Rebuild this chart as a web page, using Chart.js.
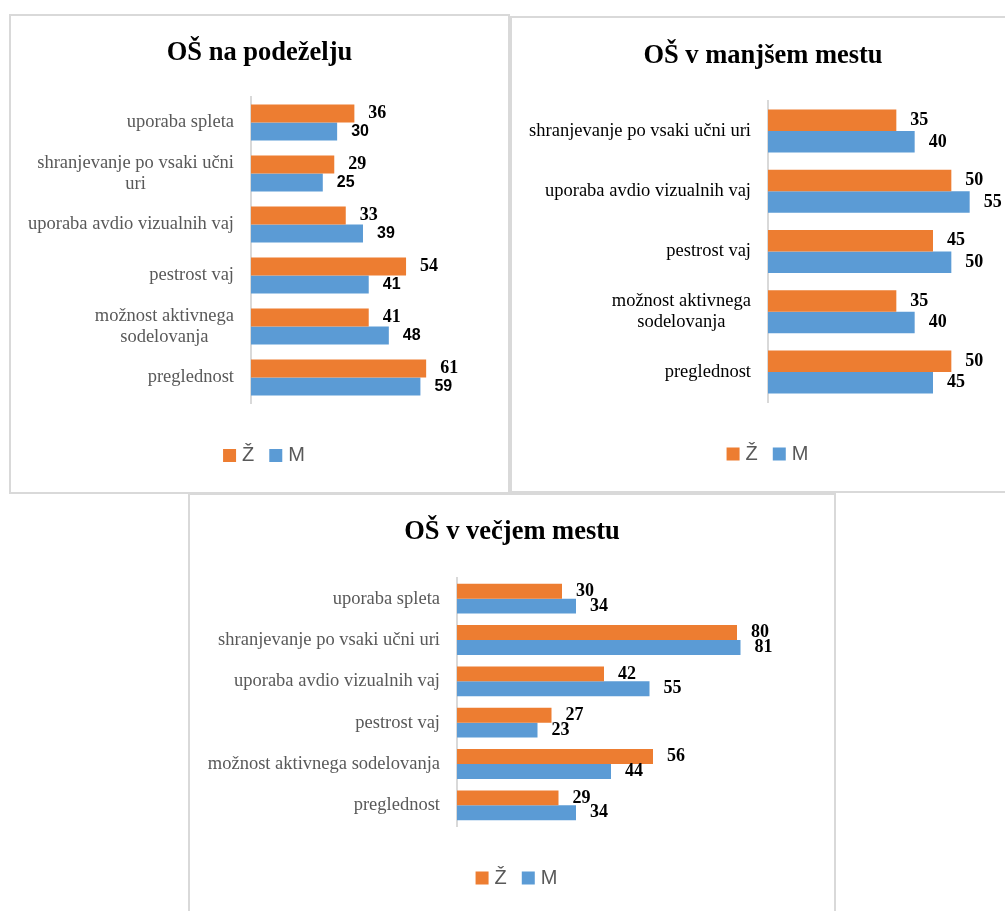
<!DOCTYPE html>
<html>
<head>
<meta charset="utf-8">
<title>OŠ – Ž / M</title>
<script src="https://cdn.jsdelivr.net/npm/chart.js@4.4.0/dist/chart.umd.min.js"></script>
<style>
  html, body { margin: 0; padding: 0; background: #fff; overflow: hidden; }
  body { width: 1005px; height: 911px; position: relative; }
  .panel { position: absolute; box-sizing: border-box; border: 2px solid #d9d9d9; background: #fff; }
  .panel canvas { display: block; }
  #p1 { left: 9px; top: 14px; width: 501px; height: 480px; }
  #p2 { left: 510px; top: 16px; width: 506px; height: 477px; }
  #p3 { left: 188px; top: 493px; width: 648px; height: 440px; }
</style>
</head>
<body>
<div class="panel" id="p1"><canvas id="ruralChart" width="497" height="476"></canvas></div>
<div class="panel" id="p2"><canvas id="smallTownChart" width="502" height="473"></canvas></div>
<div class="panel" id="p3"><canvas id="largeTownChart" width="644" height="436"></canvas></div>

<script>
// series names
const legendNames = ['Ž', 'M'];

// OŠ na podeželju
const ruralLabels = ['uporaba spleta', ['shranjevanje po vsaki učni', 'uri'], 'uporaba avdio vizualnih vaj',
    'pestrost vaj', ['možnost aktivnega', 'sodelovanja'], 'preglednost'];
const ruralZ = [36, 29, 33, 54, 41, 61];
const ruralM = [30, 25, 39, 41, 48, 59];

// OŠ v manjšem mestu
const smallTownLabels = ['shranjevanje po vsaki učni uri', 'uporaba avdio vizualnih vaj', 'pestrost vaj',
    ['možnost aktivnega', 'sodelovanja'], 'preglednost'];
const smallTownZ = [35, 50, 45, 35, 50];
const smallTownM = [40, 55, 50, 40, 45];

// OŠ v večjem mestu
const largeTownLabels = ['uporaba spleta', 'shranjevanje po vsaki učni uri', 'uporaba avdio vizualnih vaj',
    'pestrost vaj', 'možnost aktivnega sodelovanja', 'preglednost'];
const largeTownZ = [30, 80, 42, 27, 56, 29];
const largeTownM = [34, 81, 55, 23, 44, 34];

const orange = '#ED7D31';
const blue = '#5B9BD5';
const serif = '"Liberation Serif", "Times New Roman", serif';
const sans = '"Liberation Sans", Arial, sans-serif';

// title, category labels, value labels and legend
const panelPlugin = {
    id: 'panel',
    afterDraw(chart, args, o) {
        const ctx = chart.ctx;
        const area = chart.chartArea;
        const yScale = chart.scales.y;
        ctx.save();

        ctx.fillStyle = '#000';
        ctx.font = 'bold 26.5px ' + serif;
        ctx.textAlign = 'center';
        ctx.textBaseline = 'alphabetic';
        ctx.fillText(o.title, chart.width / 2, o.titleY);

        // category labels, multi-line ones centred on each other
        ctx.textBaseline = 'middle';
        ctx.font = '18.5px ' + serif;
        ctx.fillStyle = o.labelColor;
        chart.data.labels.forEach((lab, i) => {
            const lines = Array.isArray(lab) ? lab : [lab];
            const yc = yScale.getPixelForTick(i);
            const right = area.left - 17;
            const wMax = Math.max(...lines.map(l => ctx.measureText(l).width));
            lines.forEach((l, k) => {
                ctx.fillText(l, right - wMax / 2, yc + (k - (lines.length - 1) / 2) * 21);
            });
        });

        // values at the bar ends
        ctx.textAlign = 'left';
        ctx.fillStyle = '#000';
        chart.data.datasets.forEach((ds, d) => {
            ctx.font = o.valueFonts[d];
            chart.getDatasetMeta(d).data.forEach((bar, i) => {
                ctx.fillText(String(ds.data[i]), bar.x + 14, bar.y);
            });
        });

        // legend
        const sq = 13;
        ctx.font = '20px ' + sans;
        const items = chart.data.datasets.map(ds => ({
            text: ds.label, color: ds.backgroundColor, w: ctx.measureText(ds.label).width
        }));
        let total = 0;
        items.forEach((it, i) => { total += sq + 6 + it.w + (i < items.length - 1 ? 15 : 0); });
        let x = chart.width / 2 - total / 2 + 4.5;
        items.forEach(it => {
            ctx.fillStyle = it.color;
            ctx.fillRect(x, o.legendY - sq / 2, sq, sq);
            x += sq + 6;
            ctx.fillStyle = '#595959';
            ctx.fillText(it.text, x, o.legendY);
            x += it.w + 15;
        });

        ctx.restore();
    }
};

function drawPanel(id, labels, z, m, cfg) {
    return new Chart(document.getElementById(id), {
        type: 'bar',
        data: {
            labels: labels,
            datasets: [
                { label: legendNames[0], data: z, backgroundColor: orange, borderWidth: 0 },
                { label: legendNames[1], data: m, backgroundColor: blue, borderWidth: 0 }
            ]
        },
        options: {
            indexAxis: 'y',
            responsive: false,
            animation: false,
            events: [],
            layout: { padding: cfg.padding },
            datasets: { bar: { categoryPercentage: cfg.catPct, barPercentage: 1 } },
            scales: {
                x: { display: false, min: 0, max: cfg.max },
                y: {
                    ticks: { display: false },
                    grid: { display: false },
                    border: { display: true, color: '#d9d9d9', width: 2 },
                    afterFit: s => { s.width = 0; }
                }
            },
            plugins: {
                legend: { display: false },
                tooltip: { enabled: false },
                panel: {
                    title: cfg.title,
                    titleY: cfg.titleY,
                    legendY: cfg.legendY,
                    labelColor: cfg.labelColor,
                    valueFonts: cfg.valueFonts
                }
            }
        },
        plugins: [panelPlugin]
    });
}

drawPanel('ruralChart', ruralLabels, ruralZ, ruralM, {
    title: 'OŠ na podeželju',
    titleY: 44,
    legendY: 439.5,
    labelColor: '#595959',
    valueFonts: ['bold 18px ' + serif, 'bold 16px ' + sans],
    max: 70,
    catPct: 0.71,
    padding: { left: 240, top: 81, right: 56, bottom: 89 }
});

drawPanel('smallTownChart', smallTownLabels, smallTownZ, smallTownM, {
    title: 'OŠ v manjšem mestu',
    titleY: 45,
    legendY: 436,
    labelColor: '#000',
    valueFonts: ['bold 18px ' + serif, 'bold 18px ' + serif],
    max: 60,
    catPct: 0.715,
    padding: { left: 256, top: 83, right: 26, bottom: 89 }
});

drawPanel('largeTownChart', largeTownLabels, largeTownZ, largeTownM, {
    title: 'OŠ v večjem mestu',
    titleY: 44,
    legendY: 383,
    labelColor: '#595959',
    valueFonts: ['bold 18px ' + serif, 'bold 18px ' + serif],
    max: 90,
    catPct: 0.72,
    padding: { left: 267, top: 83, right: 62, bottom: 105 }
});
</script>
</body>
</html>
